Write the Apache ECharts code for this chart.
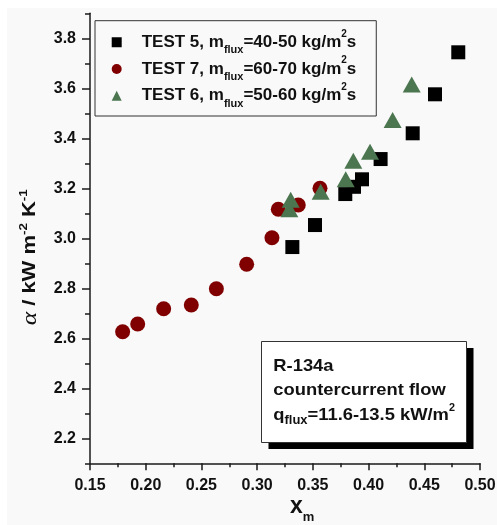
<!DOCTYPE html>
<html><head><meta charset="utf-8">
<script src="https://cdn.jsdelivr.net/npm/echarts@6/dist/echarts.min.js"></script>
<style>html,body{margin:0;padding:0;background:#fff}#c{width:497px;height:525px}</style>
</head><body><div id="c"></div>
<script>
// ---- data ----
const seriesNames = ['TEST 5', 'TEST 7', 'TEST 6'];
const fluxRanges = ['40-50', '60-70', '50-60'];
const test5X = [0.3316, 0.3519, 0.3791, 0.3869, 0.3941, 0.4108, 0.4396, 0.4596, 0.4805];
const test5Y = [2.965, 3.053, 3.177, 3.206, 3.236, 3.317, 3.420, 3.576, 3.744];
const test7X = [0.1793, 0.1928, 0.2161, 0.2409, 0.2634, 0.2906, 0.3133, 0.3190, 0.3369, 0.3564];
const test7Y = [2.626, 2.657, 2.718, 2.733, 2.798, 2.896, 3.002, 3.116, 3.133, 3.200];
const test6X = [0.3289, 0.3301, 0.3570, 0.3795, 0.3863, 0.4013, 0.4216, 0.4387];
const test6Y = [3.116, 3.154, 3.186, 3.236, 3.310, 3.346, 3.473, 3.615];
const xTickLabels = ['0.15', '0.20', '0.25', '0.30', '0.35', '0.40', '0.45', '0.50'];
const yTickLabels = ['2.2', '2.4', '2.6', '2.8', '3.0', '3.2', '3.4', '3.6', '3.8'];
const annotationLines = ['R-134a', 'countercurrent flow'];
const annotationQ = ['q', 'flux', '=11.6-13.5 kW/m', '2'];

// ---- helpers ----
const FONT = 'Arial, "Liberation Sans", sans-serif';
const INK = '#111';
const AX = '#1a1a1a';
const zip = (xs, ys) => xs.map((x, i) => [x, ys[i]]);
const yTickValues = yTickLabels.map(Number);
const findLabel = (arr, v) => arr.find(s => Math.abs(Number(s) - v) < 1e-9) || '';

const chart = echarts.init(document.getElementById('c'), null, {renderer: 'canvas'});

const option = {
  animation: false,
  grid: {left: 90, right: 17, top: 13.3, bottom: 61.7, containLabel: false, outerBoundsMode: 'none'},
  xAxis: {
    type: 'value', min: 0.15, max: 0.5, interval: 0.05,
    axisLine: {show: true, onZero: false, lineStyle: {color: AX, width: 1.5}},
    axisTick: {show: true, length: 7, lineStyle: {color: AX, width: 1.5}},
    minorTick: {show: true, splitNumber: 2, length: 4, lineStyle: {color: AX, width: 1.5}},
    splitLine: {show: false}, minorSplitLine: {show: false},
    axisLabel: {margin: 14, fontSize: 16, fontWeight: 'bold', fontFamily: FONT, color: INK,
      formatter: v => findLabel(xTickLabels, v)}
  },
  yAxis: [{
    type: 'value', min: 2.1, max: 3.9, interval: 0.1, position: 'left',
    axisLine: {show: true, onZero: false, lineStyle: {color: AX, width: 1.5}},
    axisTick: {show: true, length: 5, lineStyle: {color: AX, width: 1.5}},
    axisLabel: {show: false},
    splitLine: {show: false}
  }, {
    type: 'value', min: 2.1, max: 3.9, interval: 0.1, position: 'left', offset: 0,
    axisLine: {show: false},
    axisTick: {show: true, length: 8, customValues: yTickValues, lineStyle: {color: AX, width: 1.5}},
    axisLabel: {show: true, customValues: yTickValues, margin: 14, fontSize: 16, fontWeight: 'bold',
      fontFamily: FONT, color: INK, formatter: v => findLabel(yTickLabels, v)},
    splitLine: {show: false}
  }],
  legend: {
    data: seriesNames, orient: 'vertical', left: 95, top: 20.7,
    padding: [8.2, 20, 7, 16.7], itemWidth: 10, itemHeight: 10, itemGap: 0,
    borderColor: '#333', borderWidth: 1, selectedMode: false,
    formatter: name => {
      const i = seriesNames.indexOf(name);
      return '{h|' + name + ', m}{sub|flux}{t|=' + fluxRanges[i] + ' kg/m}{sup|2}{t|s}';
    },
    textStyle: {
      color: INK, fontFamily: FONT, fontSize: 17, fontWeight: 'bold',
      rich: {
        h: {color: INK, fontFamily: FONT, fontSize: 17, fontWeight: 'bold', lineHeight: 26.7, padding: [0, 0, 0, 15]},
        t: {color: INK, fontFamily: FONT, fontSize: 17, fontWeight: 'bold', lineHeight: 26.7},
        sub: {color: INK, fontFamily: FONT, fontSize: 11, fontWeight: 'bold', lineHeight: 9, verticalAlign: 'bottom'},
        sup: {color: INK, fontFamily: FONT, fontSize: 10, fontWeight: 'bold', lineHeight: 7.2, verticalAlign: 'top'}
      }
    }
  },
  graphic: [
    {type: 'rect', z: -10, silent: true, shape: {x: 7, y: 8, width: 490, height: 517}, style: {fill: '#f9f9f9'}},
    {type: 'rect', silent: true, shape: {x: 268.5, y: 348, width: 205, height: 101}, style: {fill: '#000'}},
    {type: 'rect', silent: true, shape: {x: 261.5, y: 341.5, width: 205, height: 101},
      style: {fill: '#fff', stroke: '#333', lineWidth: 1}},
    {type: 'text', silent: true, x: 273.3, y: 354.25, scaleX: 1.08,
      style: {
        text: '{t|' + annotationLines[0] + '}\n{t|' + annotationLines[1] + '}\n{t|' + annotationQ[0] +
          '}{sub|' + annotationQ[1] + '}{t|' + annotationQ[2] + '}{sup|' + annotationQ[3] + '}',
        align: 'left', verticalAlign: 'top', fill: INK,
        rich: {
          t: {fill: INK, fontFamily: FONT, fontSize: 17, fontWeight: 'bold', lineHeight: 24.3},
          sub: {fill: INK, fontFamily: FONT, fontSize: 12, fontWeight: 'bold', lineHeight: 2.6, verticalAlign: 'bottom'},
          sup: {fill: INK, fontFamily: FONT, fontSize: 10, fontWeight: 'bold', lineHeight: 20.8, verticalAlign: 'top'}
        }
      }},
    {type: 'text', silent: true, x: 290, y: 490,
      style: {
        text: '{x|x}{sub|m}', align: 'left', verticalAlign: 'top', fill: INK,
        rich: {
          x: {fill: INK, fontFamily: FONT, fontSize: 23, fontWeight: 'bold', lineHeight: 34},
          sub: {fill: INK, fontFamily: FONT, fontSize: 13, fontWeight: 'bold', lineHeight: 12.2, verticalAlign: 'bottom'}
        }
      }},
    {type: 'text', silent: true, x: 30.4, y: 257.3, rotation: Math.PI / 2, scaleX: 1.22,
      style: {
        text: '{a|\u03b1}{t| / kW m}{sup|-2}{t| K}{sup|-1}', align: 'center', verticalAlign: 'middle', fill: INK,
        rich: {
          a: {fill: INK, fontFamily: '"Liberation Serif", serif', fontStyle: 'italic', fontSize: 21, lineHeight: 24},
          t: {fill: INK, fontFamily: FONT, fontSize: 18, fontWeight: 'bold', lineHeight: 24},
          sup: {fill: INK, fontFamily: FONT, fontSize: 11, fontWeight: 'bold', lineHeight: 3.6, verticalAlign: 'top'}
        }
      }}
  ],
  series: [
    {name: seriesNames[0], type: 'scatter', symbol: 'rect', symbolSize: 14,
      itemStyle: {color: '#000', opacity: 1}, data: zip(test5X, test5Y), emphasis: {disabled: true}},
    {name: seriesNames[1], type: 'scatter', symbol: 'circle', symbolSize: 15,
      itemStyle: {color: '#800000', opacity: 1}, data: zip(test7X, test7Y), emphasis: {disabled: true}},
    {name: seriesNames[2], type: 'scatter', symbol: 'triangle', symbolSize: [18, 16],
      itemStyle: {color: '#4b7650', opacity: 1}, data: zip(test6X, test6Y), emphasis: {disabled: true}}
  ]
};
chart.setOption(option);
</script>
</body></html>
